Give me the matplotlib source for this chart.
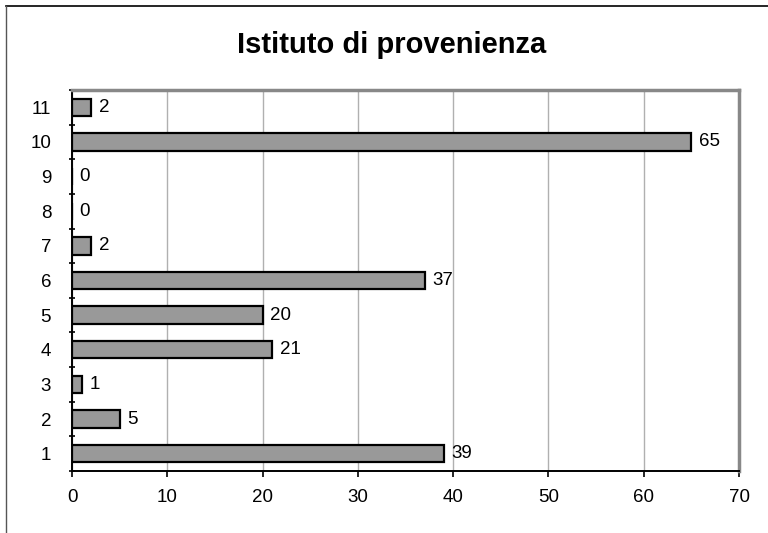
import matplotlib
matplotlib.use('Agg')
import matplotlib.pyplot as plt
from matplotlib.lines import Line2D

plt.rcParams['font.family'] = ['Liberation Sans', 'DejaVu Sans']

categories = [1, 2, 3, 4, 5, 6, 7, 8, 9, 10, 11]
values = [39, 5, 1, 21, 20, 37, 2, 0, 0, 65, 2]
x_ticks = [0, 10, 20, 30, 40, 50, 60, 70]
title = 'Istituto di provenienza'

W, H = 768, 533
fig = plt.figure(figsize=(W / 100, H / 100), dpi=100)
ax = fig.add_axes([72 / W, 1 - 471 / H, (739 - 72) / W, (471 - 90) / H])

ax.barh(categories, values, height=0.5, color='#999999',
        edgecolor='black', linewidth=1.6, zorder=3)
for c, v in zip(categories, values):
    ax.text(v + 0.8, c, str(v), va='center', ha='left', fontsize=13.5, zorder=4)

ax.set_xlim(0, 70)
ax.set_ylim(0.5, 11.5)
ax.set_xticks(x_ticks)
ax.set_yticks(categories)
ax.set_yticks([c + 0.5 for c in [0] + categories], minor=True)
ax.tick_params(axis='y', which='major', length=0, pad=15, labelsize=13.5)
ax.tick_params(axis='y', which='minor', length=5, direction='inout', width=1.2)
ax.tick_params(axis='x', which='major', length=4, direction='out', width=1.2,
               pad=9, labelsize=13.5)
ax.grid(axis='x', color='#b0b0b0', linewidth=1, zorder=0)

for side in ('top', 'right'):
    ax.spines[side].set_color('#888888')
    ax.spines[side].set_linewidth(2.5)
for side in ('left', 'bottom'):
    ax.spines[side].set_color('black')
    ax.spines[side].set_linewidth(1.4)

fig.text(392 / W, 1 - 45 / H, title, ha='center', va='center',
         fontsize=21, fontweight='bold')

# outer chart frame (top and left edges visible)
fig.add_artist(Line2D([6 / W, 1], [1 - 6 / H, 1 - 6 / H], color='black',
                      linewidth=1.2, transform=fig.transFigure))
fig.add_artist(Line2D([6 / W, 6 / W], [0, 1 - 6 / H], color='#555555',
                      linewidth=1.0, transform=fig.transFigure))

fig.savefig('out.png', dpi=100)
